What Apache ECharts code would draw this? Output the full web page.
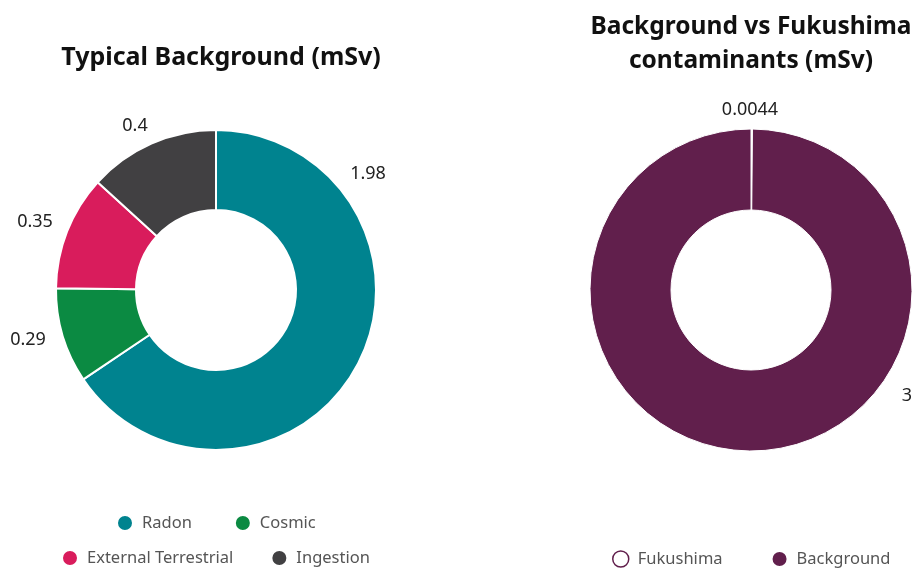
<!DOCTYPE html>
<html>
<head>
<meta charset="utf-8">
<script src="https://cdn.jsdelivr.net/npm/echarts@6/dist/echarts.min.js"></script>
<style>html,body{margin:0;padding:0;background:#fff}#c{width:913px;height:570px}</style>
</head>
<body>
<div id="c"></div>
<script>
// Data
const bgCategories = ['Radon', 'Cosmic', 'External Terrestrial', 'Ingestion'];
const bgValues = [1.98, 0.29, 0.35, 0.4];
const bgColors = ['#00838f', '#0b8a42', '#d91c5c', '#414042'];

const fkCategories = ['Fukushima', 'Background'];
const fkValues = [0.0044, 3];
const fkColors = ['#ffffff', '#611f4c'];

const FONT = 'Noto Sans';
const chart = echarts.init(document.getElementById('c'));

const legendText = { color: '#555', fontSize: 16.5, fontFamily: FONT, padding: [0, 0, 0, 4] };
const mkLegend = (names, x, y, gap) => ({
  data: names, left: x, top: y, orient: 'horizontal', padding: 0,
  icon: 'circle', itemWidth: 16, itemHeight: 16, itemGap: gap,
  textStyle: legendText, selectedMode: false
});

chart.setOption({
  animation: false,
  title: [
    { text: 'Typical Background (mSv)', left: 216, top: 40, textAlign: 'center',
      textStyle: { fontFamily: FONT, fontWeight: 'bold', fontSize: 25, color: '#111' } },
    { text: 'Background vs Fukushima\ncontaminants (mSv)', left: 746, top: 5, textAlign: 'center',
      textStyle: { fontFamily: FONT, fontWeight: 'bold', fontSize: 24.5, color: '#111', lineHeight: 34 } }
  ],
  legend: [
    mkLegend([bgCategories[0], bgCategories[1]], 116, 514, 42),
    mkLegend([bgCategories[2], bgCategories[3]], 61, 549, 37),
    mkLegend([
      { name: fkCategories[0], itemStyle: { color: '#fff', borderColor: '#611f4c', borderWidth: 1.5 } },
      { name: fkCategories[1] }
    ], 612, 550, 48)
  ],
  series: [
    {
      type: 'pie', center: [216, 290], radius: [80, 160], startAngle: 90, clockwise: true,
      avoidLabelOverlap: false,
      itemStyle: { borderColor: '#fff', borderWidth: 2 },
      label: { show: true, position: 'outside', formatter: '{c}', color: '#222', fontSize: 18, fontFamily: FONT },
      labelLine: { show: false, length: 8, length2: 0 },
      labelLayout: function (p) {
        if (p.dataIndex === 0) return { x: 368, y: 174, align: 'center', verticalAlign: 'middle' };
        if (p.dataIndex === 1) return { x: 28, y: 340, align: 'center', verticalAlign: 'middle' };
        if (p.dataIndex === 2) return { x: 35, y: 222, align: 'center', verticalAlign: 'middle' };
        if (p.dataIndex === 3) return { x: 135, y: 126, align: 'center', verticalAlign: 'middle' };
      },
      emphasis: { disabled: true },
      data: bgCategories.map((n, i) => ({ name: n, value: bgValues[i], itemStyle: { color: bgColors[i] } }))
    },
    {
      type: 'pie', center: [751, 290], radius: [80, 161], startAngle: 90, clockwise: true,
      avoidLabelOverlap: false,
      itemStyle: { borderColor: '#fff', borderWidth: 1 },
      label: { show: true, position: 'outside', formatter: '{c}', color: '#222', fontSize: 18, fontFamily: FONT },
      labelLine: { show: false, length: 8, length2: 0 },
      labelLayout: function (p) {
        if (p.dataIndex === 0) return { x: 750, y: 110, align: 'center', verticalAlign: 'middle' };
        if (p.dataIndex === 1) return { x: 907, y: 396, align: 'center', verticalAlign: 'middle' };
      },
      emphasis: { disabled: true },
      data: fkCategories.map((n, i) => ({ name: n, value: fkValues[i], itemStyle: { color: fkColors[i] } }))
    }
  ]
});
</script>
</body>
</html>
